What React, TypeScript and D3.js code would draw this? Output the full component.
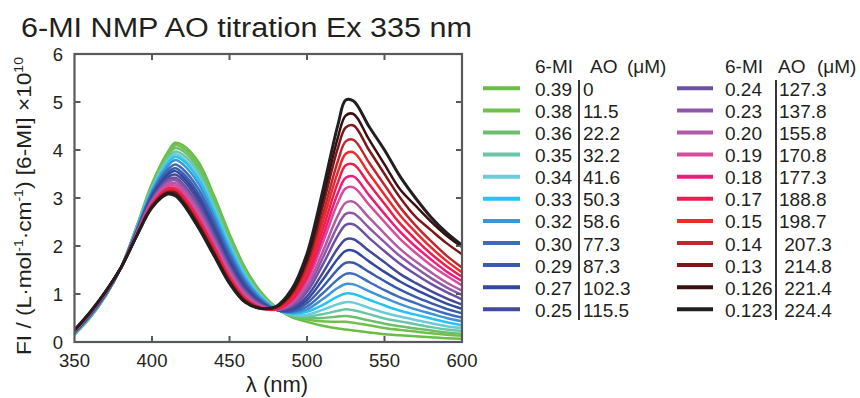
import * as d3 from "d3";
import React, { useRef, useEffect } from "react";

const wavelengths = [350, 360, 370, 380, 390, 400, 410, 415, 420, 430, 440, 450, 460, 470, 480, 490, 500, 510, 520, 525, 530, 540, 550, 560, 570, 580, 590, 600];

const miConc = ["0.39", "0.38", "0.36", "0.35", "0.34", "0.33", "0.32", "0.30", "0.29", "0.27", "0.25",
  "0.24", "0.23", "0.20", "0.19", "0.18", "0.17", "0.15", "0.14", "0.13", "0.126", "0.123"];
const aoConc = ["0", "11.5", "22.2", "32.2", "41.6", "50.3", "58.6", "77.3", "87.3", "102.3", "115.5",
  "127.3", "137.8", "155.8", "170.8", "177.3", "188.8", "198.7", " 207.3", " 214.8", " 221.4", " 224.4"];

const seriesColors = ["#6abd45", "#70c04b", "#6cbf6c", "#69c6a7", "#6ccbd9", "#27c4f1", "#3f95d3", "#3d6cbd",
  "#3a5bab", "#30489e", "#434a9a", "#6a51a3", "#8e58a9", "#b35aa6", "#d94b9c", "#ec1c7b", "#ed1e4e",
  "#ee2a2b", "#c1272d", "#7f1719", "#3b0f10", "#231f20"];

// FI ×10^10, one row per titration step, sampled at the wavelengths above
const spectra = [
  [0.15, 0.50, 0.95, 1.55, 2.40, 3.30, 3.95, 4.15, 4.10, 3.75, 3.05, 2.25, 1.55, 1.05, 0.72, 0.52, 0.42, 0.34, 0.28, 0.26, 0.24, 0.20, 0.16, 0.14, 0.12, 0.10, 0.08, 0.07],
  [0.16, 0.51, 0.96, 1.55, 2.39, 3.28, 3.91, 4.10, 4.04, 3.68, 2.99, 2.20, 1.51, 1.03, 0.72, 0.54, 0.47, 0.43, 0.42, 0.42, 0.40, 0.35, 0.29, 0.25, 0.22, 0.18, 0.15, 0.13],
  [0.16, 0.51, 0.96, 1.55, 2.38, 3.25, 3.86, 4.04, 3.98, 3.61, 2.93, 2.15, 1.48, 1.01, 0.71, 0.54, 0.50, 0.50, 0.53, 0.54, 0.52, 0.45, 0.38, 0.33, 0.28, 0.24, 0.20, 0.17],
  [0.17, 0.52, 0.97, 1.55, 2.37, 3.22, 3.81, 3.97, 3.90, 3.53, 2.85, 2.09, 1.43, 0.98, 0.70, 0.56, 0.53, 0.58, 0.65, 0.68, 0.66, 0.58, 0.49, 0.43, 0.37, 0.31, 0.26, 0.23],
  [0.17, 0.53, 0.97, 1.55, 2.36, 3.19, 3.76, 3.91, 3.83, 3.45, 2.78, 2.02, 1.39, 0.96, 0.69, 0.57, 0.57, 0.67, 0.79, 0.83, 0.82, 0.71, 0.61, 0.53, 0.46, 0.39, 0.33, 0.29],
  [0.18, 0.53, 0.98, 1.55, 2.35, 3.17, 3.72, 3.86, 3.78, 3.39, 2.73, 1.98, 1.36, 0.94, 0.69, 0.59, 0.63, 0.77, 0.95, 1.01, 1.00, 0.88, 0.76, 0.65, 0.57, 0.49, 0.41, 0.35],
  [0.18, 0.54, 0.98, 1.55, 2.33, 3.14, 3.66, 3.79, 3.70, 3.30, 2.64, 1.91, 1.31, 0.92, 0.68, 0.61, 0.68, 0.89, 1.13, 1.21, 1.20, 1.06, 0.92, 0.79, 0.68, 0.59, 0.50, 0.43],
  [0.19, 0.55, 0.99, 1.55, 2.32, 3.10, 3.59, 3.70, 3.60, 3.19, 2.54, 1.83, 1.25, 0.88, 0.67, 0.63, 0.74, 1.01, 1.31, 1.42, 1.42, 1.25, 1.08, 0.93, 0.81, 0.69, 0.59, 0.51],
  [0.20, 0.56, 1.00, 1.55, 2.30, 3.06, 3.53, 3.62, 3.51, 3.09, 2.45, 1.76, 1.20, 0.85, 0.67, 0.65, 0.81, 1.14, 1.52, 1.65, 1.65, 1.46, 1.27, 1.09, 0.94, 0.81, 0.69, 0.60],
  [0.20, 0.57, 1.00, 1.55, 2.29, 3.03, 3.48, 3.56, 3.44, 3.01, 2.38, 1.69, 1.15, 0.83, 0.67, 0.68, 0.88, 1.29, 1.74, 1.90, 1.90, 1.68, 1.46, 1.26, 1.09, 0.94, 0.80, 0.69],
  [0.21, 0.57, 1.01, 1.55, 2.28, 3.00, 3.43, 3.49, 3.37, 2.93, 2.30, 1.63, 1.11, 0.81, 0.67, 0.70, 0.95, 1.43, 1.96, 2.14, 2.14, 1.90, 1.66, 1.42, 1.23, 1.06, 0.91, 0.78],
  [0.22, 0.58, 1.02, 1.55, 2.27, 2.97, 3.38, 3.42, 3.29, 2.85, 2.23, 1.57, 1.07, 0.79, 0.67, 0.74, 1.04, 1.60, 2.22, 2.44, 2.45, 2.17, 1.89, 1.63, 1.41, 1.21, 1.04, 0.89],
  [0.22, 0.59, 1.02, 1.55, 2.26, 2.95, 3.33, 3.37, 3.23, 2.78, 2.16, 1.52, 1.03, 0.77, 0.67, 0.77, 1.11, 1.74, 2.43, 2.67, 2.68, 2.38, 2.08, 1.79, 1.55, 1.33, 1.14, 0.98],
  [0.23, 0.59, 1.03, 1.55, 2.25, 2.92, 3.29, 3.31, 3.17, 2.71, 2.10, 1.47, 0.99, 0.75, 0.67, 0.80, 1.18, 1.87, 2.64, 2.90, 2.92, 2.59, 2.26, 1.94, 1.68, 1.45, 1.24, 1.07],
  [0.23, 0.60, 1.03, 1.55, 2.24, 2.90, 3.25, 3.26, 3.11, 2.64, 2.04, 1.42, 0.96, 0.74, 0.68, 0.83, 1.27, 2.05, 2.91, 3.20, 3.22, 2.86, 2.50, 2.15, 1.86, 1.60, 1.38, 1.18],
  [0.24, 0.60, 1.04, 1.55, 2.23, 2.87, 3.20, 3.20, 3.05, 2.57, 1.98, 1.36, 0.92, 0.72, 0.68, 0.86, 1.34, 2.18, 3.11, 3.42, 3.45, 3.06, 2.67, 2.30, 1.99, 1.72, 1.47, 1.27],
  [0.24, 0.61, 1.04, 1.55, 2.22, 2.86, 3.18, 3.17, 3.01, 2.53, 1.94, 1.33, 0.90, 0.71, 0.68, 0.89, 1.42, 2.33, 3.33, 3.68, 3.70, 3.29, 2.88, 2.47, 2.14, 1.84, 1.58, 1.36],
  [0.24, 0.61, 1.04, 1.55, 2.22, 2.85, 3.17, 3.16, 3.00, 2.52, 1.93, 1.32, 0.90, 0.71, 0.70, 0.93, 1.50, 2.48, 3.55, 3.92, 3.95, 3.51, 3.07, 2.64, 2.29, 1.97, 1.69, 1.45],
  [0.24, 0.61, 1.04, 1.55, 2.21, 2.84, 3.14, 3.13, 2.97, 2.48, 1.89, 1.29, 0.88, 0.71, 0.71, 0.97, 1.58, 2.63, 3.78, 4.18, 4.21, 3.74, 3.27, 2.81, 2.43, 2.10, 1.80, 1.55],
  [0.25, 0.61, 1.05, 1.55, 2.21, 2.83, 3.12, 3.11, 2.94, 2.45, 1.86, 1.27, 0.86, 0.71, 0.72, 1.01, 1.67, 2.81, 4.05, 4.47, 4.51, 4.00, 3.50, 3.01, 2.61, 2.33, 2.06, 1.83],
  [0.25, 0.62, 1.05, 1.55, 2.20, 2.81, 3.10, 3.07, 2.90, 2.41, 1.83, 1.24, 0.84, 0.70, 0.73, 1.04, 1.75, 2.96, 4.27, 4.72, 4.75, 4.22, 3.70, 3.18, 2.84, 2.51, 2.22, 1.98],
  [0.25, 0.62, 1.05, 1.55, 2.20, 2.80, 3.08, 3.05, 2.88, 2.38, 1.80, 1.22, 0.83, 0.70, 0.74, 1.09, 1.84, 3.13, 4.53, 5.04, 5.02, 4.49, 4.00, 3.45, 3.00, 2.60, 2.28, 2.02],
];

const xTicks = [350, 400, 450, 500, 550, 600];
const yTicks = [0, 1, 2, 3, 4, 5, 6];

const W = 860;
const H = 398;
const plot = { left: 74.5, right: 462, top: 54, bottom: 342 };
const font = "'Liberation Sans', Arial, Helvetica, sans-serif";
const axisColor = "#58595b";
const textColor = "#231f20";

function App() {
  const ref = useRef<SVGSVGElement>(null);

  useEffect(() => {
    const svg = d3.select(ref.current);
    svg.selectAll("*").remove();

    const x = d3.scaleLinear().domain([350, 600]).range([plot.left, plot.right]);
    const y = d3.scaleLinear().domain([0, 6]).range([plot.bottom, plot.top]);

    svg.append("defs").append("clipPath").attr("id", "plotclip")
      .append("rect")
      .attr("x", plot.left).attr("y", plot.top - 2)
      .attr("width", plot.right - plot.left).attr("height", plot.bottom - plot.top + 2);

    // title
    svg.append("text")
      .attr("x", 21).attr("y", 37)
      .attr("font-size", 27)
      .attr("textLength", 451)
      .attr("lengthAdjust", "spacingAndGlyphs")
      .attr("fill", textColor)
      .text("6-MI NMP AO titration Ex 335 nm");

    // spectra
    const line = d3.line<number>()
      .x((_, i) => x(wavelengths[i]))
      .y((d) => y(d))
      .curve(d3.curveCatmullRom.alpha(0.5));

    svg.append("g")
      .attr("clip-path", "url(#plotclip)")
      .selectAll("path")
      .data(spectra)
      .join("path")
      .attr("d", (d) => line(d))
      .attr("fill", "none")
      .attr("stroke", (_, i) => seriesColors[i])
      .attr("stroke-width", (_, i) => (i === spectra.length - 1 ? 3 : 2.5))
      .attr("stroke-linejoin", "round");

    // frame
    const axes = svg.append("g").attr("stroke", axisColor).attr("fill", "none");
    axes.append("rect")
      .attr("x", plot.left).attr("y", plot.top)
      .attr("width", plot.right - plot.left).attr("height", plot.bottom - plot.top)
      .attr("stroke-width", 2.2);

    xTicks.slice(1, -1).forEach((t) => {
      axes.append("line").attr("x1", x(t)).attr("x2", x(t))
        .attr("y1", plot.bottom).attr("y2", plot.bottom - 6).attr("stroke-width", 2);
      axes.append("line").attr("x1", x(t)).attr("x2", x(t))
        .attr("y1", plot.top).attr("y2", plot.top + 6).attr("stroke-width", 2);
    });
    yTicks.slice(1, -1).forEach((t) => {
      axes.append("line").attr("x1", plot.left).attr("x2", plot.left + 6)
        .attr("y1", y(t)).attr("y2", y(t)).attr("stroke-width", 2);
      axes.append("line").attr("x1", plot.right).attr("x2", plot.right - 6)
        .attr("y1", y(t)).attr("y2", y(t)).attr("stroke-width", 2);
    });

    // tick labels
    svg.append("g").selectAll("text").data(xTicks).join("text")
      .attr("x", (d) => x(d)).attr("y", 367)
      .attr("text-anchor", "middle").attr("font-size", 18.5).attr("fill", textColor)
      .text((d) => d);
    svg.append("g").selectAll("text").data(yTicks).join("text")
      .attr("x", 63).attr("y", (d) => y(d) + 6.5)
      .attr("text-anchor", "end").attr("font-size", 18.5).attr("fill", textColor)
      .text((d) => d);

    // axis titles
    svg.append("text")
      .attr("x", 277).attr("y", 392)
      .attr("text-anchor", "middle").attr("font-size", 22).attr("fill", textColor)
      .text("λ (nm)");

    const yt = svg.append("text")
      .attr("transform", "translate(31,206) rotate(-90)")
      .attr("text-anchor", "middle").attr("font-size", 21).attr("fill", textColor)
      .attr("textLength", 298).attr("lengthAdjust", "spacingAndGlyphs");
    yt.append("tspan").text("FI / (L·mol");
    yt.append("tspan").attr("font-size", 13).attr("dy", -8).text("-1");
    yt.append("tspan").attr("dy", 8).text("·cm");
    yt.append("tspan").attr("font-size", 13).attr("dy", -8).text("-1");
    yt.append("tspan").attr("dy", 8).text(") [6-MI] ×10");
    yt.append("tspan").attr("font-size", 13).attr("dy", -8).text("10");

    // legend
    const cols = [
      { start: 0, swX: [483, 520], miX: 535, divX: 579, aoX: 583, hdr: [535, 590, 627] },
      { start: 11, swX: [677, 713], miX: 725, divX: 776, aoX: 779, hdr: [725, 778, 817] },
    ];
    const rowY = (k: number) => 88.3 + k * 22.1;
    cols.forEach((c) => {
      const g = svg.append("g").attr("fill", textColor).attr("font-size", 19);
      g.append("text").attr("x", c.hdr[0]).attr("y", 73).text("6-MI");
      g.append("text").attr("x", c.hdr[1]).attr("y", 73).text("AO");
      g.append("text").attr("x", c.hdr[2]).attr("y", 73).text("(μM)");
      g.append("line")
        .attr("x1", c.divX).attr("x2", c.divX).attr("y1", 80).attr("y2", 320)
        .attr("stroke", textColor).attr("stroke-width", 1.8);
      for (let k = 0; k < 11; k++) {
        const i = c.start + k;
        g.append("line")
          .attr("x1", c.swX[0]).attr("x2", c.swX[1])
          .attr("y1", rowY(k)).attr("y2", rowY(k))
          .attr("stroke", seriesColors[i]).attr("stroke-width", 4);
        g.append("text").attr("x", c.miX).attr("y", rowY(k) + 7.5).text(miConc[i]);
        g.append("text").attr("x", c.aoX).attr("y", rowY(k) + 7.5)
          .style("white-space", "pre").text(aoConc[i]);
      }
    });
  }, []);

  return (
    <svg
      ref={ref}
      width={W}
      height={H}
      style={{ position: "absolute", left: 0, top: 0, background: "#fff", fontFamily: font }}
    ></svg>
  );
}

export default App;
